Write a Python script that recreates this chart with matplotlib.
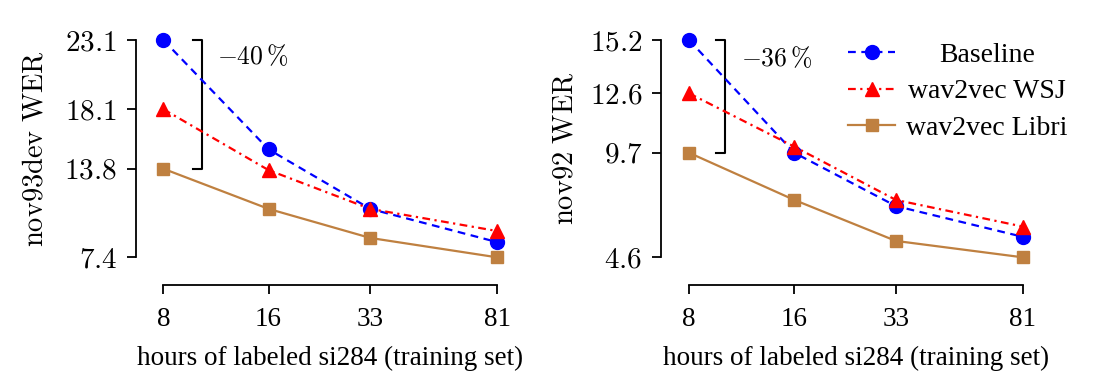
import matplotlib
matplotlib.use("Agg")
import matplotlib.pyplot as plt
from matplotlib.ticker import NullLocator
from matplotlib.transforms import blended_transform_factory

# hours of labeled si284 (tick labels are rounded)
hours = [8, 16.6, 33.6, 81]
hour_labels = ["8", "16", "33", "81"]

# nov93dev WER
dev_baseline = [23.1, 15.2, 10.9, 8.5]
dev_wsj = [18.1, 13.7, 10.9, 9.3]
dev_libri = [13.8, 10.9, 8.8, 7.4]

# nov92 WER
test_baseline = [15.2, 9.7, 7.1, 5.6]
test_wsj = [12.6, 10.0, 7.4, 6.1]
test_libri = [9.7, 7.4, 5.4, 4.6]

BLUE = "#0000ff"
RED = "#ff0000"
BROWN = "#bf8040"

plt.rcParams["font.family"] = ["Liberation Serif", "DejaVu Serif"]
plt.rcParams["mathtext.fontset"] = "cm"
plt.rcParams["font.size"] = 19


def draw_panel(ax, base, wsj, libri, ylabel, bx, tx, ty, ylpad):
    ax.plot(hours, base, color=BLUE, ls=(0, (3.5, 2.5)), lw=1.6, marker="o",
            ms=10, clip_on=False, zorder=3, label="Baseline")
    ax.plot(hours, wsj, color=RED, ls=(0, (3.5, 2, 1, 2)), lw=1.6, marker="^",
            ms=10, clip_on=False, zorder=4, label="wav2vec WSJ")
    ax.plot(hours, libri, color=BROWN, ls="-", lw=1.6, marker="s",
            ms=8, clip_on=False, zorder=3, label="wav2vec Libri")

    ax.set_xscale("log")
    ax.set_xlim(hours[0], hours[-1])
    ax.set_xticks(hours)
    ax.set_xticklabels(hour_labels)
    ax.xaxis.set_minor_locator(NullLocator())

    yt = [max(base), wsj[0], libri[0], min(libri)]
    ax.set_ylim(min(libri), max(base))
    ax.set_yticks(yt)
    ax.set_yticklabels([r"$%.1f$" % v for v in yt])
    ax.yaxis.set_minor_locator(NullLocator())

    for s in ["top", "right"]:
        ax.spines[s].set_visible(False)
    for s in ["left", "bottom"]:
        ax.spines[s].set_position(("outward", 20))
        ax.spines[s].set_linewidth(1.3)
    ax.spines["left"].set_bounds(min(libri), max(base))
    ax.spines["bottom"].set_bounds(hours[0], hours[-1])
    ax.tick_params(direction="out", length=6.5, width=1.3)
    ax.tick_params(axis="x", pad=9, labelsize=19.5)
    ax.tick_params(axis="y", pad=7, labelsize=21)

    ax.set_xlabel("hours of labeled si284 (training set)", fontsize=19.5, labelpad=10)
    ax.set_ylabel(r"$\mathrm{%s}$" % ylabel.replace(" ", r"\ "), fontsize=20.5,
                  labelpad=ylpad)

    # bracket showing the relative improvement at 8 hours
    tr = blended_transform_factory(ax.transAxes, ax.transData)
    top, bot = base[0], libri[0]
    ax.plot([bx - 0.027, bx, bx, bx - 0.027], [top, top, bot, bot],
            color="black", lw=1.5, transform=tr, clip_on=False)
    pct = round(100 * (top - bot) / top)
    ax.text(tx, ty, r"$\mathrm{-}%d\,\%%$" % pct, transform=tr,
            ha="left", va="center", fontsize=18.5)


fig = plt.figure(figsize=(10.97, 3.87), dpi=100)
ax1 = fig.add_axes([0.1489, 0.3351, 0.3042, 0.5615])
ax2 = fig.add_axes([0.6281, 0.3351, 0.3042, 0.5615])

draw_panel(ax1, dev_baseline, dev_wsj, dev_libri, "nov93dev WER", 0.115, 0.16, 21.9, 11)
draw_panel(ax2, test_baseline, test_wsj, test_libri, "nov92 WER", 0.108, 0.155, 14.3, 8)

leg = ax2.legend(loc="upper left", bbox_to_anchor=(0.418, 1.08), frameon=False,
                 fontsize=20, handlelength=1.7, handletextpad=0.4,
                 labelspacing=0.41, borderpad=0.2)
fig.canvas.draw()
renderer = fig.canvas.get_renderer()
widths = [t.get_window_extent(renderer).width for t in leg.get_texts()]
w = max(widths)
for t, tw in zip(leg.get_texts(), widths):
    t.set_position(((w - tw) / 2, 0))

fig.savefig("out.png", dpi=100)
